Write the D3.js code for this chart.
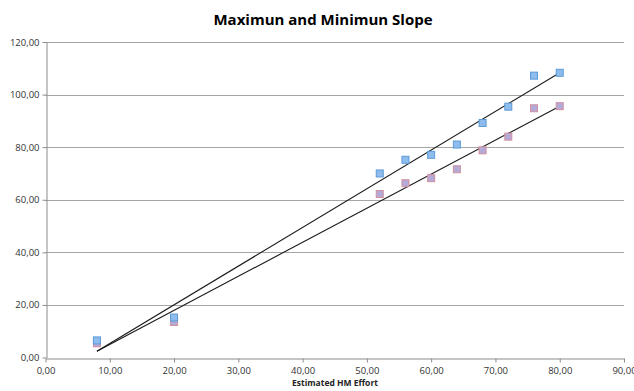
<!DOCTYPE html>
<html><head><meta charset="utf-8">
<script src="https://cdn.jsdelivr.net/npm/d3@7"></script>
<style>body{margin:0;background:#fff}svg{display:block}text{font-family:"Open Sans","Liberation Sans",sans-serif}</style>
</head><body>
<svg id="c" width="634" height="391"></svg>
<script>
const effort = [8, 20, 52, 56, 60, 64, 68, 72, 76, 80];
const maxValues = [6.5, 15.2, 70.0, 75.2, 77.1, 81.0, 89.2, 95.4, 107.2, 108.3];
const minValues = [5.4, 13.5, 62.2, 66.3, 68.2, 71.6, 78.8, 84.0, 94.8, 95.6];
const maxLine = [[8, 2.4], [80, 108.3]];
const minLine = [[8, 2.4], [80, 95.6]];
const xTicks = [0, 10, 20, 30, 40, 50, 60, 70, 80, 90];
const yTicks = [0, 20, 40, 60, 80, 100, 120];
const title = "Maximun and Minimun Slope";
const xTitle = "Estimated  HM Effort";

const svg = d3.select("#c");
const x = d3.scaleLinear().domain([0, 90]).range([45.5, 624]);
const y = d3.scaleLinear().domain([0, 120]).range([357.5, 42]);
const fmt = d => d.toFixed(2).replace(".", ",");

// gridlines
svg.append("g").selectAll("line").data(yTicks.filter(d => d > 0)).join("line")
  .attr("x1", x(0)).attr("x2", x(90)).attr("y1", d => Math.round(y(d)) + 0.5).attr("y2", d => Math.round(y(d)) + 0.5)
  .attr("stroke", "#a6a6a6").attr("stroke-width", 1);

// y axis
const yAxis = svg.append("g").attr("transform", `translate(${Math.round(x(0)) + 0.5},0)`)
  .call(d3.axisLeft(y).tickValues(yTicks).tickFormat(fmt).tickSize(4).tickSizeOuter(0));
// x axis
const xAxis = svg.append("g").attr("transform", `translate(0,${Math.round(y(0)) + 0.5})`)
  .call(d3.axisBottom(x).tickValues(xTicks).tickFormat(fmt).tickSize(4).tickSizeOuter(0));
[yAxis, xAxis].forEach(a => {
  a.select(".domain").attr("stroke", "#8c8c8c");
  a.selectAll(".tick line").attr("stroke", "#8c8c8c");
  a.selectAll("text").attr("fill", "#333").style("font-size", "9.5px");
});
yAxis.selectAll("text").attr("x", -7);
xAxis.selectAll("text").attr("y", 9);

// trend lines
const line = d3.line().x(d => x(d[0])).y(d => y(d[1]));
[maxLine, minLine].forEach(l => svg.append("path").attr("d", line(l))
  .attr("fill", "none").attr("stroke", "#1a1a1a").attr("stroke-width", 1.1));

// markers
const s = 7;
svg.append("g").selectAll("rect").data(effort.map((e, i) => [e, minValues[i]])).join("rect")
  .attr("x", d => x(d[0]) - s / 2).attr("y", d => y(d[1]) - s / 2).attr("width", s).attr("height", s)
  .attr("fill", "#b4aad8").attr("stroke", "#d3909e").attr("stroke-width", 1);
svg.append("g").selectAll("rect").data(effort.map((e, i) => [e, maxValues[i]])).join("rect")
  .attr("x", d => x(d[0]) - s / 2).attr("y", d => y(d[1]) - s / 2).attr("width", s).attr("height", s)
  .attr("fill", "#8fbcee").attr("stroke", "#5b9bd5").attr("stroke-width", 1);

// titles
svg.append("text").attr("x", 323).attr("y", 25).attr("text-anchor", "middle")
  .style("font-size", "15px").style("font-weight", "bold").attr("fill", "#000").text(title);
svg.append("text").attr("x", 292).attr("y", 386)
  .style("font-size", "8.5px").style("font-weight", "bold").attr("fill", "#222").text(xTitle);
</script>
</body></html>
